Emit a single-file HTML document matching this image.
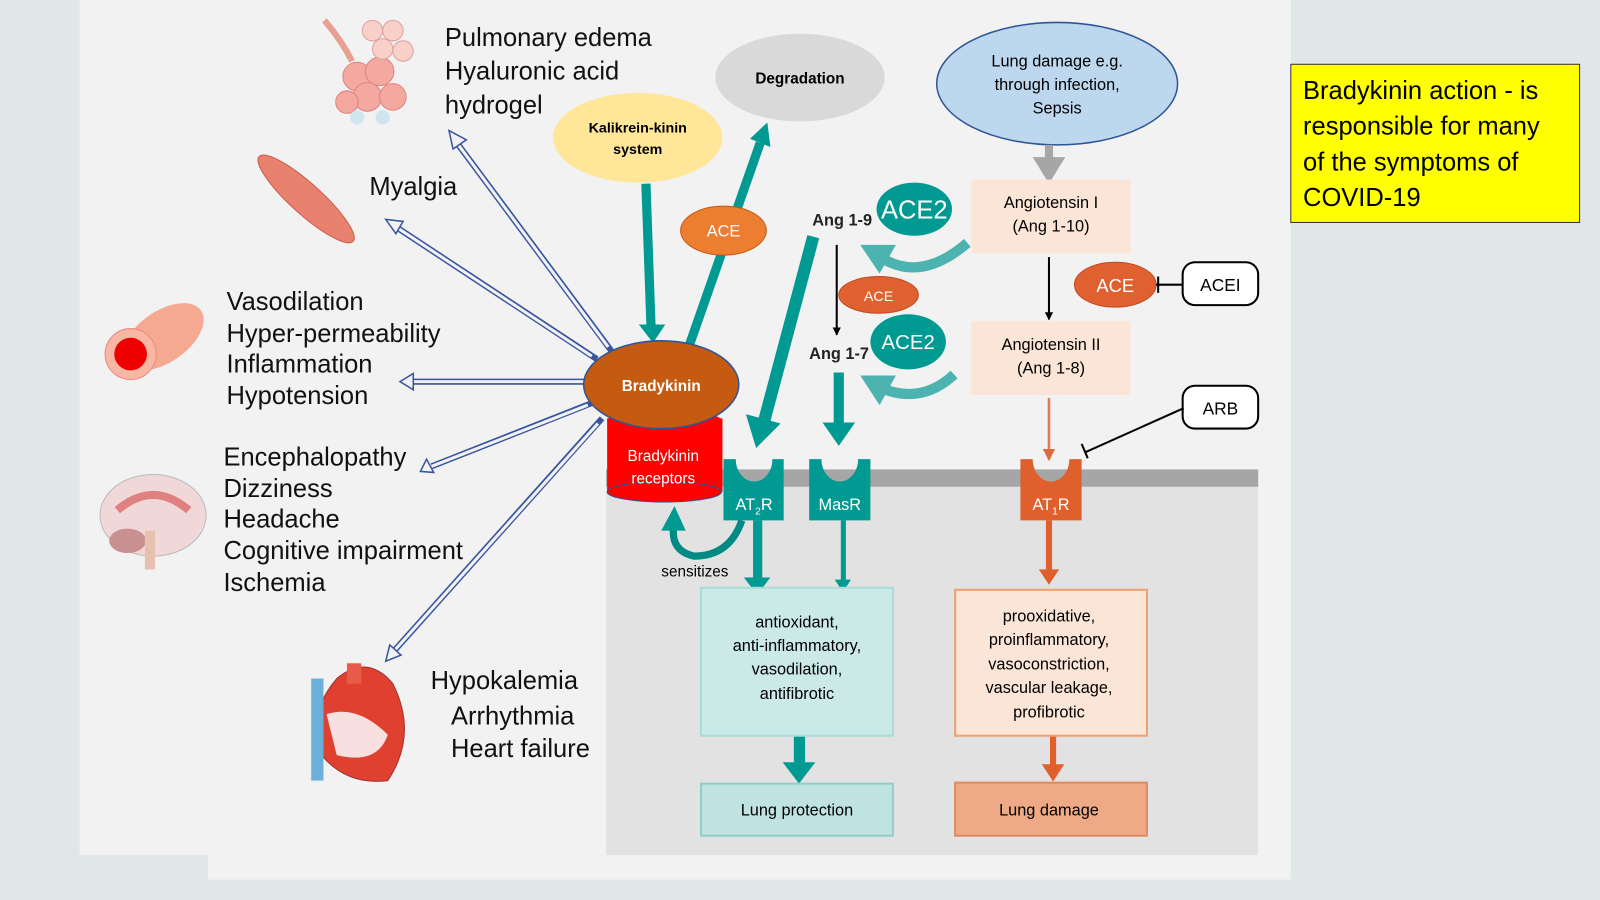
<!DOCTYPE html>
<html><head><style>html,body{margin:0;padding:0;background:#dfe7e9;}svg{display:block}text{font-family:"Liberation Sans",sans-serif}</style></head>
<body>
<svg width="1600" height="900" viewBox="0 0 1568 882" preserveAspectRatio="none" xmlns="http://www.w3.org/2000/svg">
<defs>
<marker id="bk" markerWidth="8" markerHeight="8" refX="7" refY="4" orient="auto" markerUnits="userSpaceOnUse"><path d="M0,0L8,4L0,8z" fill="#000"/></marker>
<marker id="or" markerWidth="12" markerHeight="12" refX="10" refY="6" orient="auto" markerUnits="userSpaceOnUse"><path d="M0,0L12,6L0,12z" fill="#e06a40"/></marker>
</defs>
<rect width="1568" height="882" fill="#dfe7e9"/>
<rect x="78" y="0" width="1187" height="838" fill="#f2f2f2"/>
<rect x="204" y="800" width="1061" height="62" fill="#f2f2f2"/>
<rect x="594" y="468" width="639" height="370" fill="#e2e2e2"/>
<rect x="594" y="460" width="639" height="17" fill="#a6a6a6"/>

<rect x="1265" y="63" width="283" height="155" fill="#ffff00" stroke="#333" stroke-width="1"/>
<text font-size="25" fill="#000"><tspan x="1277" y="97">Bradykinin action - is</tspan><tspan x="1277" y="132">responsible for many</tspan><tspan x="1277" y="167">of the symptoms of</tspan><tspan x="1277" y="202">COVID-19</tspan></text>

<g stroke="#3a55a0" stroke-width="6" fill="none">
<line x1="600" y1="345" x2="447" y2="139"/><line x1="585" y1="352" x2="389" y2="223"/><line x1="575" y1="374" x2="404" y2="374"/><line x1="580" y1="395" x2="423" y2="457"/><line x1="590" y1="410" x2="387" y2="637"/>
</g>
<g stroke="#f2f2f2" stroke-width="3" fill="none">
<line x1="596" y1="340" x2="447" y2="139"/><line x1="580" y1="349" x2="389" y2="223"/><line x1="572" y1="374" x2="404" y2="374"/><line x1="576" y1="397" x2="423" y2="457"/><line x1="586" y1="415" x2="387" y2="637"/>
</g>
<g fill="#f2f2f2" stroke="#3a55a0" stroke-width="1.5">
<polygon points="440,128 457,137 444,146" /><polygon points="378,215 395,217 388,229"/><polygon points="392,374 405,366 405,382"/><polygon points="412,462 418,450 425,463"/><polygon points="378,648 382,632 393,642"/>
</g>

<g>
<path d="M318,20 Q335,40 345,60" stroke="#e8a090" stroke-width="6" fill="none"/>
<g fill="#f4a9a0" stroke="#e08080"><circle cx="350" cy="75" r="14"/><circle cx="372" cy="70" r="14"/><circle cx="360" cy="95" r="14"/><circle cx="385" cy="95" r="13"/><circle cx="340" cy="100" r="11"/></g>
<g fill="#f8d0c8" stroke="#e0a0a0"><circle cx="365" cy="30" r="10"/><circle cx="385" cy="30" r="10"/><circle cx="395" cy="50" r="10"/><circle cx="375" cy="48" r="10"/></g>
<g fill="#cfe6ef"><circle cx="350" cy="115" r="7"/><circle cx="375" cy="115" r="7"/></g>
<ellipse cx="300" cy="195" rx="62" ry="15" transform="rotate(42 300 195)" fill="#e8826e" stroke="#c9604c"/>
<ellipse cx="160" cy="330" rx="45" ry="25" transform="rotate(-35 160 330)" fill="#f4a990"/>
<circle cx="128" cy="347" r="25" fill="#f7b7a3" stroke="#e88"/><circle cx="128" cy="347" r="16" fill="#e00"/>
<ellipse cx="150" cy="505" rx="52" ry="40" fill="#f0d8d8" stroke="#bbb"/><path d="M115,500 Q150,470 185,500" stroke="#e08080" stroke-width="8" fill="none"/><ellipse cx="125" cy="530" rx="18" ry="12" fill="#c89090"/><rect x="142" y="520" width="10" height="38" fill="#e8c0b0"/>
<path d="M330,665 Q360,640 385,670 Q410,720 380,765 Q340,770 315,740 Q300,700 330,665z" fill="#e04030" stroke="#a03030"/><path d="M320,700 Q350,690 380,720 Q370,750 330,740z" fill="#f8e0e0"/><rect x="340" y="650" width="14" height="20" fill="#e85a4a"/><rect x="305" y="665" width="12" height="100" fill="#6ab0d8"/>
</g>

<g font-size="25" fill="#111">
<text x="436" y="45">Pulmonary edema</text><text x="436" y="78">Hyaluronic acid</text><text x="436" y="111">hydrogel</text>
<text x="362" y="191">Myalgia</text>
<text x="222" y="304">Vasodilation</text><text x="222" y="335">Hyper-permeability</text><text x="222" y="365">Inflammation</text><text x="222" y="396">Hypotension</text>
<text x="219" y="456">Encephalopathy</text><text x="219" y="487">Dizziness</text><text x="219" y="517">Headache</text><text x="219" y="548">Cognitive impairment</text><text x="219" y="579">Ischemia</text>
<text x="422" y="675">Hypokalemia</text><text x="442" y="710">Arrhythmia</text><text x="442" y="742">Heart failure</text>
</g>

<ellipse cx="784" cy="76" rx="83" ry="43" fill="#d9d9d9"/>
<text x="784" y="82" font-size="15" font-weight="bold" text-anchor="middle">Degradation</text>
<ellipse cx="625" cy="135" rx="83" ry="44" fill="#ffe699"/>
<text x="625" y="130" font-size="14" font-weight="bold" text-anchor="middle">Kalikrein-kinin</text>
<text x="625" y="151" font-size="14" font-weight="bold" text-anchor="middle">system</text>
<ellipse cx="1036" cy="82" rx="118" ry="60" fill="#bdd7ee" stroke="#2f5597" stroke-width="1.5"/>
<g font-size="16" text-anchor="middle"><text x="1036" y="65">Lung damage e.g.</text><text x="1036" y="88">through infection,</text><text x="1036" y="111">Sepsis</text></g>
<rect x="1024" y="142" width="8" height="14" fill="#a6a6a6"/><polygon points="1012,154 1044,154 1028,180" fill="#a6a6a6"/>

<g fill="#009a93">
<line x1="633" y1="180" x2="638" y2="320" stroke="#009a93" stroke-width="9"/>
<polygon points="626,318 652,318 640,336"/>
<line x1="676" y1="337" x2="745" y2="140" stroke="#009a93" stroke-width="9"/>
<polygon points="755,144 735,136 752,120"/>
<line x1="797" y1="232" x2="749" y2="412" stroke="#009a93" stroke-width="12"/>
<polygon points="765,415 731,406 741,439"/>
<line x1="822" y1="365" x2="822" y2="416" stroke="#009a93" stroke-width="10"/>
<polygon points="806,414 838,414 822,437"/>
</g>
<ellipse cx="709" cy="226" rx="42" ry="24" fill="#ed7d31" stroke="#c55a11"/>
<text x="709" y="232" font-size="16" fill="#fff" text-anchor="middle">ACE</text>

<rect x="595" y="410" width="113" height="72" fill="#ff0000"/>
<ellipse cx="651" cy="482" rx="56" ry="10" fill="#ff0000" stroke="#2f5597"/>
<ellipse cx="651" cy="412" rx="56" ry="10" fill="#ff0000"/>
<text x="650" y="452" font-size="15" fill="#fff" text-anchor="middle">Bradykinin</text>
<text x="650" y="474" font-size="15" fill="#fff" text-anchor="middle">receptors</text>
<ellipse cx="648" cy="377" rx="76" ry="43" fill="#c55a11" stroke="#2f5597" stroke-width="1.5"/>
<text x="648" y="383" font-size="15" font-weight="bold" fill="#fff" text-anchor="middle">Bradykinin</text>

<path d="M948,238 Q905,275 868,255" stroke="#4db3b0" stroke-width="10" fill="none"/>
<polygon points="843,240 878,240 862,268" fill="#4db3b0"/>
<path d="M935,367 Q905,395 868,382" stroke="#4db3b0" stroke-width="10" fill="none"/>
<polygon points="843,368 878,368 862,397" fill="#4db3b0"/>

<text x="796" y="221" font-size="16" font-weight="bold" fill="#222">Ang 1-9</text>
<text x="793" y="352" font-size="16" font-weight="bold" fill="#222">Ang 1-7</text>
<ellipse cx="896" cy="205" rx="37" ry="26" fill="#009a93"/><text x="896" y="214" font-size="25" fill="#fff" text-anchor="middle">ACE2</text>
<ellipse cx="890" cy="335" rx="37" ry="27" fill="#009a93"/><text x="890" y="342" font-size="20" fill="#fff" text-anchor="middle">ACE2</text>
<line x1="820" y1="240" x2="820" y2="328" stroke="#000" stroke-width="2" marker-end="url(#bk)"/>
<ellipse cx="861" cy="289" rx="39" ry="18" fill="#e06030" stroke="#c04a20"/><text x="861" y="295" font-size="14" fill="#fff" text-anchor="middle">ACE</text>

<rect x="952" y="176" width="156" height="72" fill="#fbe5d6"/>
<text x="1030" y="204" font-size="16" text-anchor="middle">Angiotensin I</text><text x="1030" y="227" font-size="16" text-anchor="middle">(Ang 1-10)</text>
<line x1="1028" y1="252" x2="1028" y2="313" stroke="#000" stroke-width="2" marker-end="url(#bk)"/>
<rect x="952" y="315" width="156" height="72" fill="#fbe5d6"/>
<text x="1030" y="343" font-size="16" text-anchor="middle">Angiotensin II</text><text x="1030" y="366" font-size="16" text-anchor="middle">(Ang 1-8)</text>
<ellipse cx="1093" cy="279" rx="40" ry="22" fill="#e06030" stroke="#c04a20"/><text x="1093" y="286" font-size="18" fill="#fff" text-anchor="middle">ACE</text>
<line x1="1133" y1="279" x2="1160" y2="279" stroke="#000" stroke-width="2"/><line x1="1135" y1="271" x2="1135" y2="287" stroke="#000" stroke-width="2"/>
<rect x="1159" y="257" width="74" height="42" rx="12" fill="#fff" stroke="#000" stroke-width="2"/><text x="1196" y="285" font-size="17" text-anchor="middle">ACEI</text>
<rect x="1159" y="378" width="74" height="42" rx="12" fill="#fff" stroke="#000" stroke-width="2"/><text x="1196" y="406" font-size="17" text-anchor="middle">ARB</text>
<line x1="1160" y1="400" x2="1064" y2="443" stroke="#000" stroke-width="2"/><line x1="1060" y1="435" x2="1066" y2="449" stroke="#000" stroke-width="2"/>
<line x1="1028" y1="390" x2="1028" y2="450" stroke="#e07a50" stroke-width="2.5" marker-end="url(#or)"/>

<path d="M709,450 H721 A18,22 0 0 0 757,450 H768 V510 H709z" fill="#009a93"/>
<text x="739" y="500" font-size="16" fill="#fff" text-anchor="middle">AT<tspan font-size="10" dy="4">2</tspan><tspan dy="-4">R</tspan></text>
<path d="M793,450 H805 A18,22 0 0 0 841,450 H853 V510 H793z" fill="#009a93"/>
<text x="823" y="500" font-size="16" fill="#fff" text-anchor="middle">MasR</text>
<path d="M1000,450 H1012 A18,22 0 0 0 1048,450 H1060 V510 H1000z" fill="#e0602d"/>
<text x="1030" y="500" font-size="16" fill="#fff" text-anchor="middle">AT<tspan font-size="10" dy="4">1</tspan><tspan dy="-4">R</tspan></text>

<path d="M727,510 Q715,545 680,545 Q658,540 660,518" stroke="#008a84" stroke-width="7" fill="none"/>
<polygon points="648,520 672,520 661,496" fill="#009a93"/>
<text x="681" y="565" font-size="15" text-anchor="middle">sensitizes</text>

<g fill="#009a93">
<rect x="738" y="510" width="9" height="58"/><polygon points="729,566 755,566 742,583"/>
<rect x="824" y="510" width="5" height="60"/><polygon points="818,568 834,568 826,580"/>
<rect x="778" y="721" width="11" height="28"/><polygon points="767,747 799,747 783,768"/>
</g>
<g fill="#e0602d">
<rect x="1025" y="510" width="6" height="50"/><polygon points="1018,558 1038,558 1028,573"/>
<rect x="1029" y="721" width="6" height="30"/><polygon points="1021,749 1043,749 1032,766"/>
</g>

<rect x="687" y="576" width="188" height="145" fill="#cbeae7" stroke="#a8dcd8" stroke-width="2"/>
<g font-size="16" text-anchor="middle"><text x="781" y="615">antioxidant,</text><text x="781" y="638">anti-inflammatory,</text><text x="781" y="661">vasodilation,</text><text x="781" y="685">antifibrotic</text></g>
<rect x="936" y="578" width="188" height="143" fill="#fbe5d6" stroke="#f0a070" stroke-width="2"/>
<g font-size="16" text-anchor="middle"><text x="1028" y="609">prooxidative,</text><text x="1028" y="632">proinflammatory,</text><text x="1028" y="656">vasoconstriction,</text><text x="1028" y="679">vascular leakage,</text><text x="1028" y="703">profibrotic</text></g>

<rect x="687" y="768" width="188" height="51" fill="#bfe3e1" stroke="#8fcfcb" stroke-width="2"/><text x="781" y="799" font-size="16" text-anchor="middle">Lung protection</text>
<rect x="936" y="767" width="188" height="52" fill="#eeaa86" stroke="#e08a60" stroke-width="2"/><text x="1028" y="799" font-size="16" text-anchor="middle">Lung damage</text>
</svg>
</body></html>
